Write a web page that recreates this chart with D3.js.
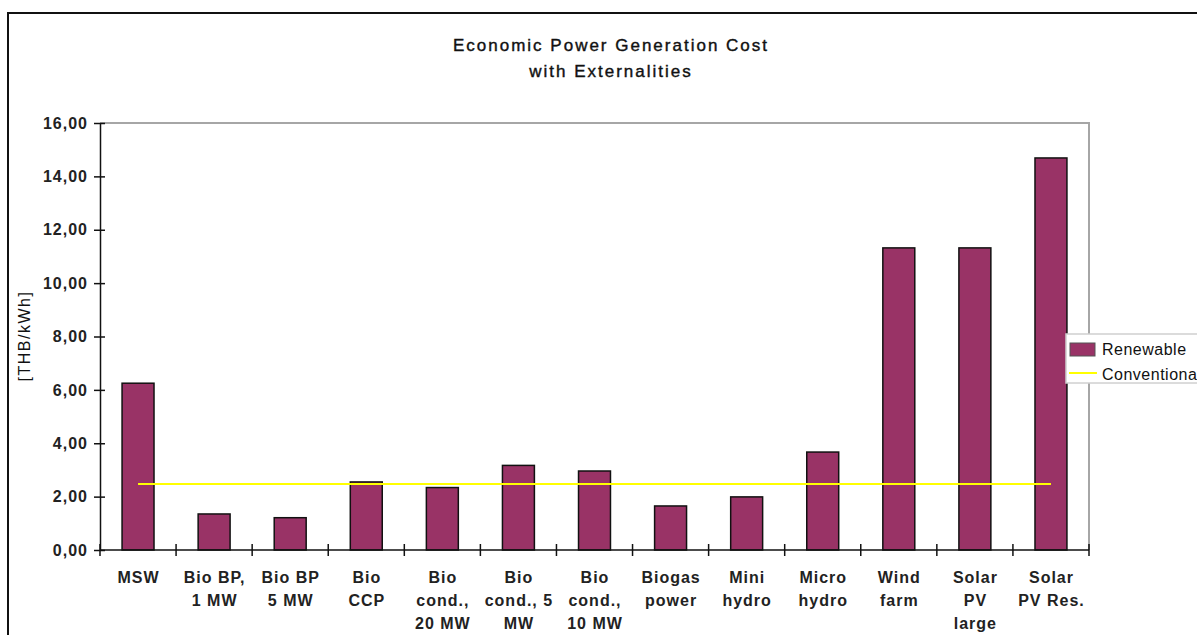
<!DOCTYPE html>
<html>
<head>
<meta charset="utf-8">
<script src="https://cdnjs.cloudflare.com/ajax/libs/d3/7.8.5/d3.min.js"></script>
<style>
  html, body { margin: 0; padding: 0; background: #fff; overflow: hidden; }
  svg { display: block; font-family: "Liberation Sans", Arial, sans-serif; }
</style>
</head>
<body>
<svg id="chart" width="1197" height="635"></svg>
<script>
// Technologies along the x axis (line breaks as printed under each bar)
const categories = [
  "MSW",
  "Bio BP,\n1 MW",
  "Bio BP\n5 MW",
  "Bio\nCCP",
  "Bio\ncond.,\n20 MW",
  "Bio\ncond., 5\nMW",
  "Bio\ncond.,\n10 MW",
  "Biogas\npower",
  "Mini\nhydro",
  "Micro\nhydro",
  "Wind\nfarm",
  "Solar\nPV\nlarge",
  "Solar\nPV Res."
];

// Renewable generation cost incl. externalities [THB/kWh]
const renewable = [6.25, 1.35, 1.21, 2.55, 2.34, 3.17, 2.96, 1.65, 1.99, 3.67, 11.32, 11.32, 14.69];

// Conventional reference cost [THB/kWh]
const conventional = [2.47, 2.47, 2.47, 2.47, 2.47, 2.47, 2.47, 2.47, 2.47, 2.47, 2.47, 2.47, 2.47];

// Y axis ticks
const yTicks = [0, 2, 4, 6, 8, 10, 12, 14, 16];

const seriesNames = ["Renewable", "Conventional"];

const svg = d3.select("#chart");

// Outer frame of the chart
svg.append("path")
  .attr("d", "M8,700 L8,13 L1300,13")
  .attr("fill", "none")
  .attr("stroke", "#111")
  .attr("stroke-width", 2);

const plot = { left: 100, right: 1089, top: 123, bottom: 550 };

const x = d3.scaleBand()
  .domain(d3.range(categories.length))
  .range([plot.left, plot.right])
  .padding(0);

const y = d3.scaleLinear()
  .domain([0, 16])
  .range([plot.bottom, plot.top]);

// Title
const title = svg.append("text")
  .attr("x", 611)
  .attr("text-anchor", "middle")
  .attr("font-size", 17)
  .attr("letter-spacing", 2)
  .attr("fill", "#111")
  .attr("stroke", "#111")
  .attr("stroke-width", 0.4);
title.append("tspan").attr("x", 611).attr("y", 51).text("Economic Power Generation Cost");
title.append("tspan").attr("x", 611).attr("y", 77).text("with Externalities");

// Plot area border (top and right)
svg.append("path")
  .attr("d", `M${plot.left},${plot.top} L${plot.right},${plot.top} L${plot.right},${plot.bottom}`)
  .attr("fill", "none")
  .attr("stroke", "#a6a6a6")
  .attr("stroke-width", 2);

// Bars
const barW = x.bandwidth() * 0.42;
svg.append("g")
  .selectAll("rect")
  .data(renewable)
  .join("rect")
  .attr("x", (d, i) => x(i) + (x.bandwidth() - barW) / 2)
  .attr("y", d => y(d))
  .attr("width", barW)
  .attr("height", d => y(0) - y(d))
  .attr("fill", "#993366")
  .attr("stroke", "#111")
  .attr("stroke-width", 1.5);

// Conventional line
const line = d3.line()
  .x((d, i) => x(i) + x.bandwidth() / 2)
  .y(d => y(d));
svg.append("path")
  .datum(conventional)
  .attr("d", line)
  .attr("fill", "none")
  .attr("stroke", "#ffff00")
  .attr("stroke-width", 2);

// Y axis
const yAxis = d3.axisLeft(y)
  .tickValues(yTicks)
  .tickFormat(d => d3.format(".2f")(d).replace(".", ","))
  .tickSizeInner(5)
  .tickSizeOuter(0)
  .tickPadding(8);
const gy = svg.append("g")
  .attr("transform", `translate(${plot.left},0)`)
  .call(yAxis);
gy.select(".domain").attr("stroke", "#111").attr("stroke-width", 1.5);
gy.selectAll(".tick line").attr("stroke", "#111").attr("stroke-width", 1.5).attr("x2", 5).attr("x1", -6);
gy.selectAll(".tick text")
  .attr("font-family", "Liberation Sans, Arial, sans-serif")
  .attr("font-size", 16)
  .attr("font-weight", "bold")
  .attr("letter-spacing", 1)
  .attr("fill", "#222")
  .attr("x", -12);

// Y axis title
svg.append("text")
  .attr("transform", "translate(30,336) rotate(-90)")
  .attr("text-anchor", "middle")
  .attr("font-size", 16)
  .attr("letter-spacing", 1.5)
  .attr("fill", "#111")
  .text("[THB/kWh]");

// X axis line and category boundary ticks
const gx = svg.append("g");
gx.append("line")
  .attr("x1", plot.left).attr("x2", plot.right)
  .attr("y1", y(0)).attr("y2", y(0))
  .attr("stroke", "#111").attr("stroke-width", 1.5);
const bounds = d3.range(categories.length + 1).map(i => i === categories.length ? plot.right : x(i));
gx.selectAll("line.tk")
  .data(bounds)
  .join("line")
  .attr("class", "tk")
  .attr("x1", d => d).attr("x2", d => d)
  .attr("y1", y(0) - 6).attr("y2", y(0) + 6)
  .attr("stroke", "#111").attr("stroke-width", 1.5);

// X category labels
gx.selectAll("text.cat")
  .data(categories)
  .join("text")
  .attr("class", "cat")
  .attr("text-anchor", "middle")
  .attr("font-size", 16)
  .attr("font-weight", "bold")
  .attr("letter-spacing", 1)
  .attr("fill", "#222")
  .each(function(d, i) {
    const t = d3.select(this);
    d.split("\n").forEach((ln, k) => {
      t.append("tspan")
        .attr("x", x(i) + x.bandwidth() / 2 + 0.5)
        .attr("y", 583 + k * 23)
        .text(ln);
    });
  });

// Legend (extends past the right edge of the frame)
const lg = svg.append("g");
lg.append("rect")
  .attr("x", 1066).attr("y", 334)
  .attr("width", 160).attr("height", 49)
  .attr("fill", "#fff")
  .attr("stroke", "#d0d0d0")
  .attr("stroke-width", 1.5);
lg.append("rect")
  .attr("x", 1070).attr("y", 343)
  .attr("width", 25).attr("height", 13)
  .attr("fill", "#993366")
  .attr("stroke", "#555")
  .attr("stroke-width", 1);
lg.append("line")
  .attr("x1", 1069).attr("x2", 1097)
  .attr("y1", 373).attr("y2", 373)
  .attr("stroke", "#ffff00").attr("stroke-width", 2);
lg.selectAll("text")
  .data(seriesNames)
  .join("text")
  .attr("x", 1102)
  .attr("y", (d, i) => 355 + i * 25)
  .attr("font-size", 16)
  .attr("letter-spacing", 0.5)
  .attr("fill", "#111")
  .text(d => d);
</script>
</body>
</html>
